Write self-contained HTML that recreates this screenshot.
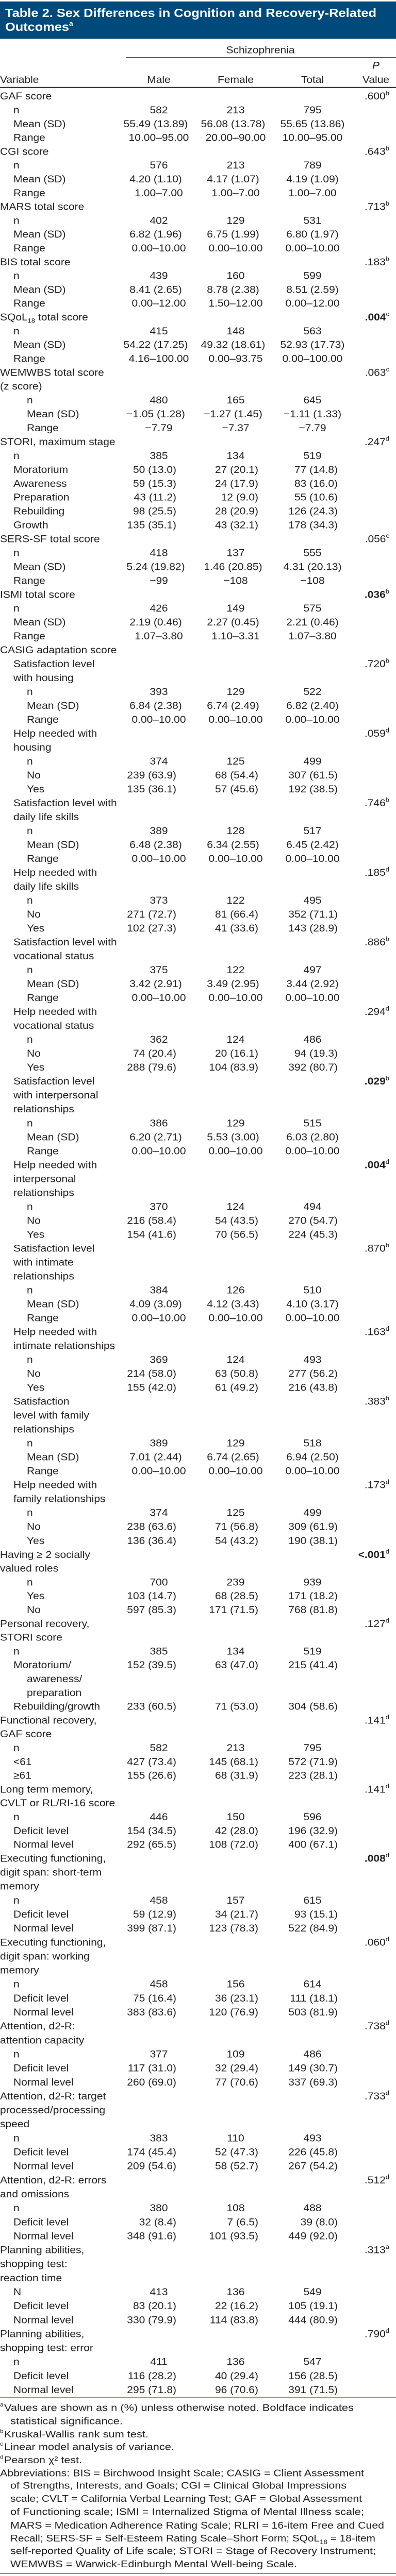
<!DOCTYPE html>
<html>
<head>
<meta charset="utf-8">
<style>
  html,body{margin:0;padding:0;background:#fff;width:100%;height:100%;overflow:hidden;}
  svg{display:block;position:absolute;left:0;top:0;width:100vw;height:100vh;}
  text{font-family:"Liberation Sans",sans-serif;fill:#231f20;}
</style>
</head>
<body>
<svg id="tbl" xmlns="http://www.w3.org/2000/svg" viewBox="0 0 768 5317" preserveAspectRatio="none">
  <rect x="0" y="3" width="768" height="77" fill="#004a7b"/>
  <text x="10" y="35" font-size="25" font-weight="bold" style="fill:#fff" textLength="720" lengthAdjust="spacingAndGlyphs">Table 2. Sex Differences in Cognition and Recovery-Related</text>
  <text x="10" y="64" font-size="25" font-weight="bold" style="fill:#fff"><tspan textLength="124" lengthAdjust="spacingAndGlyphs">Outcomes</tspan><tspan font-size="14" dy="-11">a</tspan></text>

  <text x="505" y="110" font-size="21" text-anchor="middle">Schizophrenia</text>
  <line x1="244" y1="119" x2="768" y2="119" stroke="#231f20" stroke-width="1.5"/>
  <text x="0" y="171" font-size="21">Variable</text>
  <text x="308" y="171" font-size="21" text-anchor="middle">Male</text>
  <text x="457" y="171" font-size="21" text-anchor="middle">Female</text>
  <text x="606" y="171" font-size="21" text-anchor="middle">Total</text>
  <text x="729" y="142" font-size="21" text-anchor="middle" font-style="italic">P</text>
  <text x="729" y="171" font-size="21" text-anchor="middle">Value</text>
  <line x1="0" y1="180.5" x2="768" y2="180.5" stroke="#231f20" stroke-width="2"/>

  <g id="body"></g>

  <line x1="0" y1="4949" x2="768" y2="4949" stroke="#4a78a8" stroke-width="1.5"/>
  <g id="notes"></g>
  <line x1="0" y1="5312" x2="768" y2="5312" stroke="#4a78a8" stroke-width="1.5"/>
</svg>

<script>
const rowLabels = [
 "GAF score","n","Mean (SD)","Range",
 "CGI score","n","Mean (SD)","Range",
 "MARS total score","n","Mean (SD)","Range",
 "BIS total score","n","Mean (SD)","Range",
 "SQoL18 total score","n","Mean (SD)","Range",
 "WEMWBS total score","(z score)","n","Mean (SD)","Range",
 "STORI, maximum stage","n","Moratorium","Awareness","Preparation","Rebuilding","Growth",
 "SERS-SF total score","n","Mean (SD)","Range",
 "ISMI total score","n","Mean (SD)","Range",
 "CASIG adaptation score",
 "Satisfaction level","with housing","n","Mean (SD)","Range",
 "Help needed with","housing","n","No","Yes",
 "Satisfaction level with","daily life skills","n","Mean (SD)","Range",
 "Help needed with","daily life skills","n","No","Yes",
 "Satisfaction level with","vocational status","n","Mean (SD)","Range",
 "Help needed with","vocational status","n","No","Yes",
 "Satisfaction level","with interpersonal","relationships","n","Mean (SD)","Range",
 "Help needed with","interpersonal","relationships","n","No","Yes",
 "Satisfaction level","with intimate","relationships","n","Mean (SD)","Range",
 "Help needed with","intimate relationships","n","No","Yes",
 "Satisfaction","level with family","relationships","n","Mean (SD)","Range",
 "Help needed with","family relationships","n","No","Yes",
 "Having \u2265 2 socially","valued roles","n","Yes","No",
 "Personal recovery,","STORI score","n","Moratorium/","awareness/","preparation","Rebuilding/growth",
 "Functional recovery,","GAF score","n","<61","\u226561",
 "Long term memory,","CVLT or RL/RI-16 score","n","Deficit level","Normal level",
 "Executing functioning,","digit span: short-term","memory","n","Deficit level","Normal level",
 "Executing functioning,","digit span: working","memory","n","Deficit level","Normal level",
 "Attention, d2-R:","attention capacity","n","Deficit level","Normal level",
 "Attention, d2-R: target","processed/processing","speed","n","Deficit level","Normal level",
 "Attention, d2-R: errors","and omissions","n","Deficit level","Normal level",
 "Planning abilities,","shopping test:","reaction time","N","Deficit level","Normal level",
 "Planning abilities,","shopping test: error","n","Deficit level","Normal level"
];
const rowIndent = ("0111"+"0111"+"0111"+"0111"+"0111"+"00222"+"0111111"+"0111"+"0111"+"0"+
 "11222"+"11222"+"11222"+"11222"+"11222"+"11222"+"111222"+"111222"+"111222"+"11222"+"111222"+"11222"+
 "00222"+"0011221"+"00111"+"00111"+"000111"+"000111"+"00111"+"000111"+"00111"+"000111"+"00111").split("").map(Number);

const maleValues = [
 "","582","55.49 (13.89)","10.00\u201395.00",
 "","576","4.20 (1.10)","1.00\u20137.00",
 "","402","6.82 (1.96)","0.00\u201310.00",
 "","439","8.41 (2.65)","0.00\u201312.00",
 "","415","54.22 (17.25)","4.16\u2013100.00",
 "","","480","\u22121.05 (1.28)","\u22127.79",
 "","385","50 (13.0)","59 (15.3)","43 (11.2)","98 (25.5)","135 (35.1)",
 "","418","5.24 (19.82)","\u221299",
 "","426","2.19 (0.46)","1.07\u20133.80",
 "",
 "","","393","6.84 (2.38)","0.00\u201310.00",
 "","","374","239 (63.9)","135 (36.1)",
 "","","389","6.48 (2.38)","0.00\u201310.00",
 "","","373","271 (72.7)","102 (27.3)",
 "","","375","3.42 (2.91)","0.00\u201310.00",
 "","","362","74 (20.4)","288 (79.6)",
 "","","","386","6.20 (2.71)","0.00\u201310.00",
 "","","","370","216 (58.4)","154 (41.6)",
 "","","","384","4.09 (3.09)","0.00\u201310.00",
 "","","369","214 (58.0)","155 (42.0)",
 "","","","389","7.01 (2.44)","0.00\u201310.00",
 "","","374","238 (63.6)","136 (36.4)",
 "","","700","103 (14.7)","597 (85.3)",
 "","","385","152 (39.5)","","","233 (60.5)",
 "","","582","427 (73.4)","155 (26.6)",
 "","","446","154 (34.5)","292 (65.5)",
 "","","","458","59 (12.9)","399 (87.1)",
 "","","","458","75 (16.4)","383 (83.6)",
 "","","377","117 (31.0)","260 (69.0)",
 "","","","383","174 (45.4)","209 (54.6)",
 "","","380","32 (8.4)","348 (91.6)",
 "","","","413","83 (20.1)","330 (79.9)",
 "","","411","116 (28.2)","295 (71.8)"
];
const femaleValues = [
 "","213","56.08 (13.78)","20.00\u201390.00",
 "","213","4.17 (1.07)","1.00\u20137.00",
 "","129","6.75 (1.99)","0.00\u201310.00",
 "","160","8.78 (2.38)","1.50\u201312.00",
 "","148","49.32 (18.61)","0.00\u201393.75",
 "","","165","\u22121.27 (1.45)","\u22127.37",
 "","134","27 (20.1)","24 (17.9)","12 (9.0)","28 (20.9)","43 (32.1)",
 "","137","1.46 (20.85)","\u2212108",
 "","149","2.27 (0.45)","1.10\u20133.31",
 "",
 "","","129","6.74 (2.49)","0.00\u201310.00",
 "","","125","68 (54.4)","57 (45.6)",
 "","","128","6.34 (2.55)","0.00\u201310.00",
 "","","122","81 (66.4)","41 (33.6)",
 "","","122","3.49 (2.95)","0.00\u201310.00",
 "","","124","20 (16.1)","104 (83.9)",
 "","","","129","5.53 (3.00)","0.00\u201310.00",
 "","","","124","54 (43.5)","70 (56.5)",
 "","","","126","4.12 (3.43)","0.00\u201310.00",
 "","","124","63 (50.8)","61 (49.2)",
 "","","","129","6.74 (2.65)","0.00\u201310.00",
 "","","125","71 (56.8)","54 (43.2)",
 "","","239","68 (28.5)","171 (71.5)",
 "","","134","63 (47.0)","","","71 (53.0)",
 "","","213","145 (68.1)","68 (31.9)",
 "","","150","42 (28.0)","108 (72.0)",
 "","","","157","34 (21.7)","123 (78.3)",
 "","","","156","36 (23.1)","120 (76.9)",
 "","","109","32 (29.4)","77 (70.6)",
 "","","","110","52 (47.3)","58 (52.7)",
 "","","108","7 (6.5)","101 (93.5)",
 "","","","136","22 (16.2)","114 (83.8)",
 "","","136","40 (29.4)","96 (70.6)"
];
const totalValues = [
 "","795","55.65 (13.86)","10.00\u201395.00",
 "","789","4.19 (1.09)","1.00\u20137.00",
 "","531","6.80 (1.97)","0.00\u201310.00",
 "","599","8.51 (2.59)","0.00\u201312.00",
 "","563","52.93 (17.73)","0.00\u2013100.00",
 "","","645","\u22121.11 (1.33)","\u22127.79",
 "","519","77 (14.8)","83 (16.0)","55 (10.6)","126 (24.3)","178 (34.3)",
 "","555","4.31 (20.13)","\u2212108",
 "","575","2.21 (0.46)","1.07\u20133.80",
 "",
 "","","522","6.82 (2.40)","0.00\u201310.00",
 "","","499","307 (61.5)","192 (38.5)",
 "","","517","6.45 (2.42)","0.00\u201310.00",
 "","","495","352 (71.1)","143 (28.9)",
 "","","497","3.44 (2.92)","0.00\u201310.00",
 "","","486","94 (19.3)","392 (80.7)",
 "","","","515","6.03 (2.80)","0.00\u201310.00",
 "","","","494","270 (54.7)","224 (45.3)",
 "","","","510","4.10 (3.17)","0.00\u201310.00",
 "","","493","277 (56.2)","216 (43.8)",
 "","","","518","6.94 (2.50)","0.00\u201310.00",
 "","","499","309 (61.9)","190 (38.1)",
 "","","939","171 (18.2)","768 (81.8)",
 "","","519","215 (41.4)","","","304 (58.6)",
 "","","795","572 (71.9)","223 (28.1)",
 "","","596","196 (32.9)","400 (67.1)",
 "","","","615","93 (15.1)","522 (84.9)",
 "","","","614","111 (18.1)","503 (81.9)",
 "","","486","149 (30.7)","337 (69.3)",
 "","","","493","226 (45.8)","267 (54.2)",
 "","","488","39 (8.0)","449 (92.0)",
 "","","","549","105 (19.1)","444 (80.9)",
 "","","547","156 (28.5)","391 (71.5)"
];
const pRows  = [0,4,8,12,16,20,25,32,36,41,46,51,56,61,66,71,77,83,89,94,100,105,110,117,122,127,133,139,144,150,155,161];
const pValues= [".600",".643",".713",".183",".004",".063",".247",".056",".036",".720",".059",".746",".185",".886",".294",".029",".004",".870",".163",".383",".173","<.001",".127",".141",".141",".008",".060",".738",".733",".512",".313",".790"];
const pNotes = ["b","b","b","b","c","c","d","c","b","b","d","b","d","b","d","b","d","b","d","b","d","d","d","d","d","d","d","d","d","d","a","d"];
const pBold  = [0,0,0,0,1,0,0,0,1,0,0,0,0,0,0,1,1,0,0,0,0,1,0,0,0,1,0,0,0,0,0,0];

const footnoteLines = [
 ["a","Values are shown as n (%) unless otherwise noted. Boldface indicates"],
 ["","statistical significance."],
 ["b","Kruskal-Wallis rank sum test."],
 ["c","Linear model analysis of variance."],
 ["d","Pearson \u03c7\u00b2 test."],
 ["","Abbreviations: BIS = Birchwood Insight Scale; CASIG = Client Assessment"],
 ["","of Strengths, Interests, and Goals; CGI = Clinical Global Impressions"],
 ["","scale; CVLT = California Verbal Learning Test; GAF = Global Assessment"],
 ["","of Functioning scale; ISMI = Internalized Stigma of Mental Illness scale;"],
 ["","MARS = Medication Adherence Rating Scale; RLRI = 16-item Free and Cued"],
 ["","Recall; SERS-SF = Self-Esteem Rating Scale\u2013Short Form; SQoL18 = 18-item"],
 ["","self-reported Quality of Life scale; STORI = Stage of Recovery Instrument;"],
 ["","WEMWBS = Warwick-Edinburgh Mental Well-being Scale."]
];

const NS = "http://www.w3.org/2000/svg";
const anchorIdx = [0,20,40,68,105,127,165];
const anchorY   = [198,768,1341,2145,3208,3835,4932];
function rowY(i){
  for(let k=0;k<anchorIdx.length-1;k++){
    if(i<=anchorIdx[k+1]){
      const a=anchorIdx[k], b=anchorIdx[k+1];
      return anchorY[k]+(anchorY[k+1]-anchorY[k])*(i-a)/(b-a);
    }
  }
  return anchorY[anchorY.length-1];
}
const indentX = [0,26,52];
const centerX = [308,457,606];
const meanX   = [302,452,606];
const countX  = [342,501,655];
function kindOf(label){
  if(label==="n"||label==="N") return "n";
  if(label==="Range") return "r";
  if(label==="Mean (SD)") return "m";
  return "c";
}
function addLabel(t, s){
  const m = s.match(/^(.*SQoL)(18)(.*)$/);
  if(m){
    t.appendChild(document.createTextNode(m[1]));
    const sub=document.createElementNS(NS,"tspan");
    sub.setAttribute("font-size","13"); sub.setAttribute("dy","5");
    sub.textContent=m[2]; t.appendChild(sub);
    const rest=document.createElementNS(NS,"tspan");
    rest.setAttribute("dy","-5"); rest.textContent=m[3]; t.appendChild(rest);
  } else t.textContent=s;
}

const body = document.getElementById("body");
const cols = [maleValues,femaleValues,totalValues];
const colNames = ["male","female","total"];
for(let i=0;i<rowLabels.length;i++){
  const base = rowY(i)+7.5;
  const lab = document.createElementNS(NS,"text");
  
  
  lab.setAttribute("x", indentX[rowIndent[i]||0]);
  lab.setAttribute("y", base.toFixed(1));
  lab.setAttribute("font-size","21");
  addLabel(lab,rowLabels[i]);
  body.appendChild(lab);
  const kind = kindOf(rowLabels[i]);
  for(let c=0;c<3;c++){
    const v = cols[c][i];
    if(!v) continue;
    const t = document.createElementNS(NS,"text");
    
    
    let x, anc;
    if(kind==="n"||kind==="r"){x=centerX[c];anc="middle";}
    else if(kind==="m"){x=meanX[c];anc="middle";}
    else {x=countX[c];anc="end";}
    t.setAttribute("x",x);
    t.setAttribute("y",base.toFixed(1));
    t.setAttribute("text-anchor",anc);
    t.setAttribute("font-size","21");
    t.textContent=v;
    body.appendChild(t);
  }
}
for(let k=0;k<pRows.length;k++){
  const base = rowY(pRows[k])+7.5;
  const t = document.createElementNS(NS,"text");
  
  
  t.setAttribute("x","755");
  t.setAttribute("y",base.toFixed(1));
  t.setAttribute("text-anchor","end");
  t.setAttribute("font-size","21");
  if(pBold[k]) t.setAttribute("font-weight","bold");
  t.appendChild(document.createTextNode(pValues[k]));
  const s=document.createElementNS(NS,"tspan");
  s.setAttribute("font-size","13");
  s.setAttribute("font-weight","normal");
  s.setAttribute("dy","-9");
  s.textContent=pNotes[k];
  t.appendChild(s);
  body.appendChild(t);
}

const notes = document.getElementById("notes");
const noteY = [4969,4997,5024,5050,5077,5104,5130,5157,5184,5212,5239,5265,5292];
const noteW = [678,218,280,330,151,706,652,682,686,725,708,709,556];
for(let i=0;i<footnoteLines.length;i++){
  const [mark,txt]=footnoteLines[i];
  const base=noteY[i]+7;
  if(mark){
    const m=document.createElementNS(NS,"text");
    
    
    m.setAttribute("x","0"); m.setAttribute("y",(base-9).toFixed(1));
    m.setAttribute("font-size","12");
    m.textContent=mark; notes.appendChild(m);
  }
  const t=document.createElementNS(NS,"text");
  
  
  const xx = mark?8:(i===5?0:20);
  t.setAttribute("x",xx);
  t.setAttribute("y",base.toFixed(1));
  t.setAttribute("font-size","20");
  t.setAttribute("textLength",noteW[i]);
  t.setAttribute("lengthAdjust","spacingAndGlyphs");
  addLabel(t,txt);
  notes.appendChild(t);
}
</script>
</body>
</html>
